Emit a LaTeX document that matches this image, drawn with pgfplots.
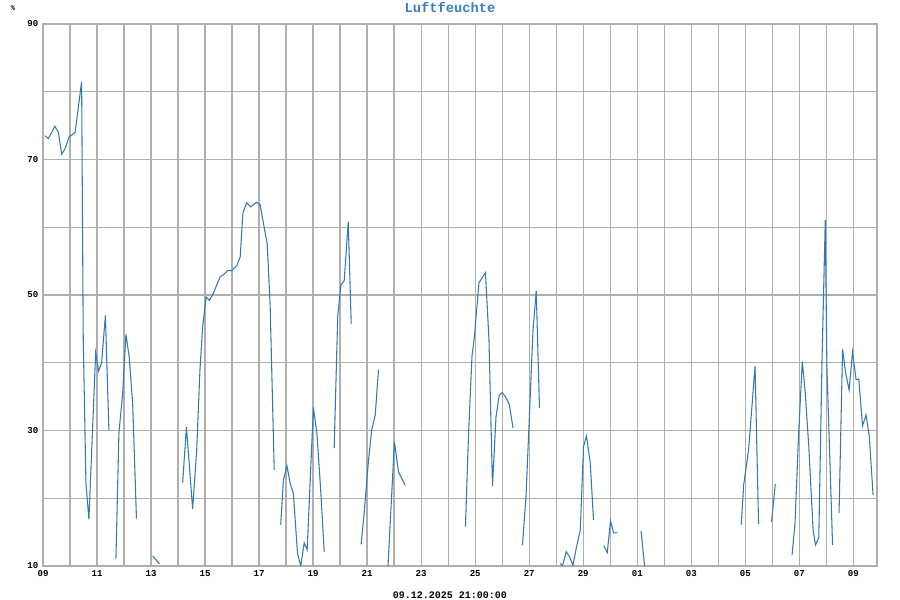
\documentclass[border=0pt]{standalone}
\usepackage{pgfplots}
\pgfplotsset{compat=1.18}
\usepackage{fontspec}
\setmainfont{Liberation Mono}
\definecolor{linecol}{RGB}{52,121,183}
\definecolor{titlecol}{RGB}{55,128,200}
\definecolor{gridcol}{RGB}{175,175,175}
\begin{document}
\begin{tikzpicture}
\begin{axis}[
  name=ax,
  at={(0,0)}, anchor=south west,
  scale only axis,
  width=625.5pt, height=406.5pt,
  xmin=0, xmax=30.875,
  ymin=10, ymax=90,
  xtick={0,2,...,30},
  xticklabels={09,11,13,15,17,19,21,23,25,27,29,01,03,05,07,09},
  minor xtick={1,3,...,29},
  ytick={10,30,50,70,90},
  minor ytick={20,40,60,80},
  grid=both,
  major grid style={gridcol, line width=1pt},
  minor grid style={gridcol, line width=1pt},
  axis line style={gridcol, line width=1pt},
  major tick length=0pt, minor tick length=0pt,
  tick label style={font=\fontsize{6.8}{8}\selectfont\bfseries},
  /pgf/number format/assume math mode=true,
  unbounded coords=jump,
  clip=true,
]
\addplot[linecol, line width=0.8pt] coordinates {
(0.07,73.5)(0.2,73.1)(0.44,74.9)(0.57,74.0)(0.69,70.8)(0.81,71.5)(0.96,73.3)(1.19,74.0)(1.43,81.5)(1.49,43.4)(1.59,22.2)(1.70,16.9)(1.95,41.5)(2.06,38.8)(2.17,40.0)(2.31,47.0)(2.44,30.0)
(2.57,nan)
(2.70,11.1)(2.81,29.6)(2.95,35.5)(3.07,44.2)(3.19,40.9)(3.32,34.0)(3.46,17.0)
(3.7,nan)
(4.06,11.5)(4.31,10.3)
(4.7,nan)
(5.17,22.3)(5.31,30.5)(5.54,18.4)(5.69,27.1)(5.81,38.9)(5.91,45.3)(6.04,49.7)(6.16,49.2)(6.31,50.3)(6.56,52.7)(6.68,53.0)(6.83,53.6)(6.99,53.6)(7.17,54.3)(7.30,55.6)(7.40,62.1)(7.54,63.6)(7.69,63.0)(7.91,63.7)(8.04,63.3)(8.16,60.6)(8.30,57.6)(8.41,48.3)(8.56,24.2)
(8.68,nan)
(8.80,16.1)(8.90,22.7)(9.03,24.8)(9.15,22.2)(9.27,20.7)(9.42,11.9)(9.54,10.0)(9.67,13.4)(9.78,12.4)(10.01,33.4)(10.14,29.6)(10.28,21.2)(10.41,12.1)
(10.6,nan)
(10.78,27.4)(10.91,46.8)(11.03,51.5)(11.15,52.1)(11.30,60.8)(11.41,45.7)
(11.6,nan)
(11.78,13.2)(11.90,18.3)(12.05,25.6)(12.17,30.1)(12.30,32.3)(12.42,39.0)
(12.6,nan)
(12.77,9.9)(13.01,28.3)(13.16,23.9)(13.41,21.9)
(14.5,nan)
(15.64,15.8)(15.75,29.1)(15.88,40.9)(15.97,43.8)(16.14,51.8)(16.38,53.3)(16.51,43.4)(16.64,21.8)(16.77,32.0)(16.89,35.2)(17.0,35.6)(17.12,35.0)(17.26,33.9)(17.40,30.4)
(17.6,nan)
(17.75,13.1)(17.88,20.2)(18.0,31.5)(18.14,44.8)(18.26,50.6)(18.38,33.3)
(18.7,nan)
(19.15,10.4)(19.23,10.0)(19.37,12.1)(19.49,11.4)(19.62,10.1)(19.74,12.6)(19.89,15.3)(20.01,27.6)(20.12,29.2)(20.26,25.2)(20.38,16.8)
(20.6,nan)
(20.76,13.0)(20.89,12.0)(21.01,16.7)(21.12,14.9)(21.27,14.9)
(21.7,nan)
(22.14,15.2)(22.27,10.0)(22.36,9.9)
(24.0,nan)
(25.85,16.1)(25.94,22.0)(26.12,27.1)(26.36,39.5)(26.49,16.2)
(26.7,nan)
(26.97,16.5)(27.11,22.1)
(27.4,nan)
(27.73,11.6)(27.84,16.3)(27.98,30.1)(28.11,40.2)(28.22,35.5)(28.35,27.6)(28.51,15.3)(28.60,13.1)(28.72,14.2)(28.84,40.4)(28.96,61.1)(29.02,39.4)(29.23,13.1)
(29.35,nan)
(29.47,17.8)(29.60,42.0)(29.72,38.4)(29.84,36.0)(29.97,41.6)(30.10,37.5)(30.20,37.6)(30.34,30.7)(30.47,32.3)(30.59,29.1)(30.73,20.5)
};
\end{axis}
\node[anchor=base, text=titlecol, font=\fontsize{10.3}{12}\selectfont\bfseries] at ([yshift=9pt,xshift=-7.5pt]ax.north) {Luftfeuchte};
\node[anchor=base, font=\fontsize{5.5}{6}\selectfont\bfseries] at ([xshift=-22.5pt,yshift=10.5pt]ax.north west) {\%};
\node[anchor=base, font=\fontsize{7.5}{9}\selectfont\bfseries] at ([xshift=-7.5pt,yshift=-24pt]ax.south) {09.12.2025 21:00:00};
\pgfresetboundingbox
\path (ax.south west) ++(-32.25pt,-25.5pt) rectangle ++(675pt,450pt);
\end{tikzpicture}
\end{document}
